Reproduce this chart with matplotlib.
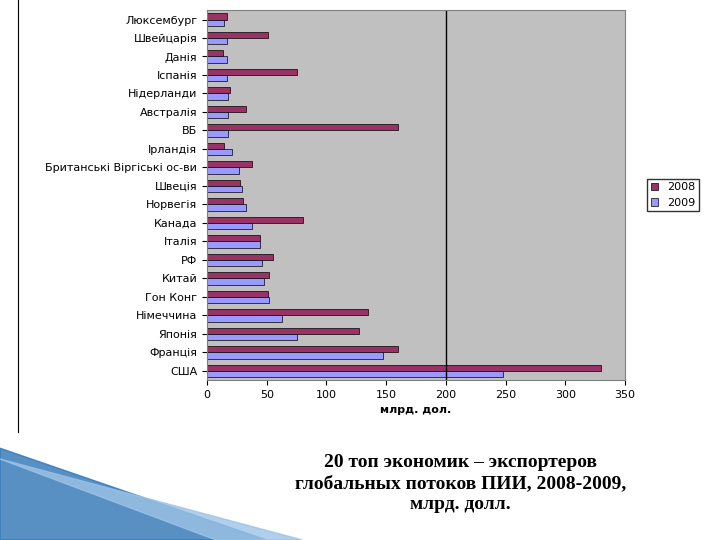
import matplotlib.pyplot as plt
import numpy as np
from matplotlib.lines import Line2D
from matplotlib.patches import Polygon

countries = ['Люксембург', 'Швейцарія', 'Данія', 'Іспанія', 'Нідерланди', 'Австралія',
             'ВБ', 'Ірландія', 'Британські Віргіські ос-ви', 'Швеція', 'Норвегія',
             'Канада', 'Італія', 'РФ', 'Китай', 'Гон Конг', 'Німеччина', 'Японія',
             'Франція', 'США']
v2008 = [17, 51, 13, 75, 19, 33, 160, 14, 38, 28, 30, 80, 44, 55, 52, 51, 135, 127, 160, 330]
v2009 = [14, 17, 17, 17, 18, 18, 18, 21, 27, 29, 33, 38, 44, 46, 48, 52, 63, 75, 147, 248]

fig = plt.figure(figsize=(7.2, 5.4), dpi=100)
ax = fig.add_axes([0.2875, 0.296, 0.5805, 0.685])
ax.set_facecolor('#c0c0c0')

y = np.arange(len(countries))
h = 0.33
ax.barh(y - h / 2, v2008, height=h, color='#993366', edgecolor='black', linewidth=0.5, label='2008')
ax.barh(y + h / 2, v2009, height=h, color='#9999ff', edgecolor='black', linewidth=0.5, label='2009')
ax.axvline(200, color='black', linewidth=1)

ax.set_xlim(0, 350)
ax.set_ylim(len(countries) - 0.5, -0.5)
ax.set_xticks(range(0, 351, 50))
ax.set_yticks(y)
ax.set_yticklabels(countries, fontsize=8)
ax.tick_params(axis='x', labelsize=8)
ax.set_xlabel('млрд. дол.', fontsize=8, fontweight='bold')
for s in ax.spines.values():
    s.set_color('#808080')

ax.legend(loc='center left', bbox_to_anchor=(1.04, 0.5), fontsize=8, frameon=True,
          edgecolor='black', fancybox=False, handlelength=0.7, borderpad=0.3)

fig.add_artist(Line2D([0.025, 0.025], [1.0, 0.2], color='black', linewidth=0.8))
fig.add_artist(Polygon([[0, 0.17], [0.37, 0.0], [0, 0.0]], closed=True,
                       transform=fig.transFigure, color='#2e75b6', alpha=0.8))
fig.add_artist(Polygon([[0, 0.15], [0.42, 0.0], [0.3, 0.0]], closed=True,
                       transform=fig.transFigure, color='#9dc3e6', alpha=0.8))

fig.text(0.64, 0.105, '20 топ экономик – экспортеров\nглобальных потоков ПИИ, 2008-2009,\nмлрд. долл.',
         ha='center', va='center', fontsize=14, fontweight='bold',
         family='Liberation Serif', linespacing=1.3)

fig.savefig('out.png')
